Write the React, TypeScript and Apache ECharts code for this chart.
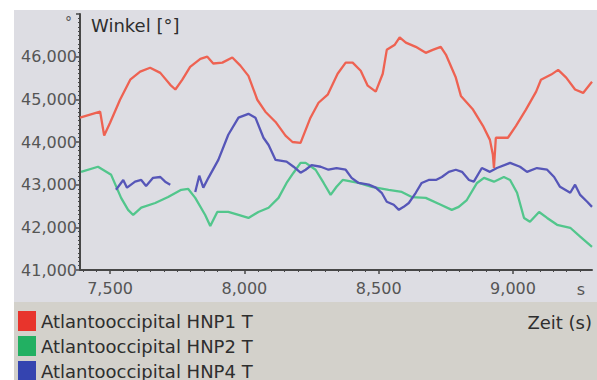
import React, { useEffect, useRef } from "react";
import * as echarts from "echarts";

const FONT = "DejaVu Sans";

const seriesNames = ["Atlantooccipital HNP1 T", "Atlantooccipital HNP2 T", "Atlantooccipital HNP4 T"];
const lineColors = ["#ee6252", "#52c68c", "#5656b8"];
const legendColors = ["#e8342c", "#22b062", "#3444b0"];

const xLabelValues = [7500, 8000, 8500, 9000];
const xMinorTicks = [7400, 7450, 7550, 7600, 7650, 7700, 7750, 7800, 7850, 7900, 7950, 8050, 8100, 8150, 8200, 8250, 8300, 8350, 8400, 8450, 8550, 8600, 8650, 8700, 8750, 8800, 8850, 8900, 8950, 9050, 9100, 9150, 9200, 9250];

const redT = [7388, 7463, 7478, 7500, 7537, 7575, 7612, 7649, 7687, 7724, 7743, 7769, 7798, 7836, 7862, 7884, 7918, 7955, 7985, 8015, 8048, 8078, 8116, 8153, 8179, 8209, 8246, 8276, 8310, 8347, 8377, 8403, 8433, 8459, 8489, 8515, 8530, 8560, 8578, 8601, 8638, 8675, 8701, 8731, 8750, 8787, 8806, 8851, 8888, 8914, 8925, 8929, 8936, 8981, 9011, 9048, 9086, 9104, 9142, 9168, 9198, 9231, 9261, 9294];
const redV = [44570, 44710, 44150, 44450, 44990, 45460, 45650, 45740, 45620, 45340, 45230, 45460, 45760, 45950, 46000, 45840, 45860, 45980, 45790, 45550, 44990, 44710, 44470, 44150, 44000, 43980, 44570, 44920, 45110, 45600, 45860, 45860, 45670, 45320, 45180, 45600, 46160, 46280, 46450, 46330, 46230, 46090, 46160, 46230, 46050, 45510, 45080, 44760, 44380, 44050, 43700, 43390, 44100, 44100, 44380, 44760, 45180, 45460, 45580, 45690, 45510, 45230, 45150, 45410];

const greenT = [7392, 7455, 7504, 7541, 7567, 7586, 7616, 7668, 7716, 7765, 7791, 7817, 7854, 7873, 7899, 7940, 7978, 8015, 8052, 8090, 8127, 8157, 8183, 8209, 8228, 8265, 8295, 8321, 8343, 8366, 8425, 8474, 8537, 8586, 8623, 8675, 8731, 8772, 8798, 8828, 8866, 8892, 8929, 8966, 8989, 9015, 9041, 9063, 9097, 9127, 9164, 9213, 9250, 9294];
const greenV = [43300, 43420, 43230, 42690, 42410, 42290, 42460, 42570, 42710, 42880, 42900, 42690, 42290, 42030, 42360, 42360, 42290, 42220, 42360, 42460, 42690, 43040, 43280, 43510, 43510, 43350, 43040, 42760, 42950, 43110, 43040, 42950, 42880, 42830, 42710, 42690, 42530, 42410, 42480, 42640, 43040, 43160, 43070, 43180, 43110, 42810, 42220, 42130, 42360, 42220, 42060, 41990, 41780, 41540];

const blueT = [7522, 7549, 7563, 7593, 7616, 7634, 7660, 7687, 7705, 7724, 7770, 7817, 7832, 7847, 7866, 7903, 7940, 7978, 8015, 8041, 8071, 8090, 8116, 8157, 8183, 8209, 8228, 8250, 8284, 8313, 8343, 8377, 8399, 8425, 8463, 8489, 8511, 8530, 8556, 8575, 8593, 8612, 8638, 8660, 8686, 8713, 8735, 8761, 8787, 8810, 8836, 8854, 8884, 8914, 8940, 8989, 9026, 9052, 9089, 9127, 9153, 9175, 9213, 9231, 9250, 9276, 9294];
const blueV = [42880, 43110, 42930, 43070, 43110, 42970, 43160, 43180, 43070, 43000, null, 42830, 43210, 42930, 43160, 43580, 44170, 44570, 44660, 44570, 44100, 43930, 43580, 43540, 43420, 43280, 43350, 43460, 43420, 43350, 43390, 43350, 43160, 43040, 43000, 42930, 42810, 42600, 42530, 42410, 42480, 42570, 42810, 43040, 43110, 43110, 43180, 43300, 43350, 43300, 43110, 43070, 43390, 43300, 43390, 43510, 43420, 43300, 43390, 43350, 43180, 42950, 42810, 43000, 42760, 42600, 42480];

const pairs = (t: number[], v: (number | null)[]) => t.map((x, i) => [x, v[i] === null ? "-" : v[i]]);
const fmt = (v: number) => v.toLocaleString("en-US");

export default function App() {
  const ref = useRef<HTMLDivElement>(null);
  useEffect(() => {
    const chart = echarts.init(ref.current!, null, { renderer: "svg" });
    const axisColor = "#474747";
    const allT = [redT, greenT, blueT];
    const allV = [redV, greenV, blueV];
    chart.setOption({
      animation: false,
      backgroundColor: "#ffffff",
      textStyle: { fontFamily: FONT },
      graphic: {
        elements: [
          { type: "rect", z: -10, shape: { x: 14, y: 10, width: 583, height: 292 }, style: { fill: "#dddde3" }, silent: true },
          { type: "rect", z: -10, shape: { x: 14, y: 302, width: 583, height: 78 }, style: { fill: "#d3d1cb" }, silent: true },
          { type: "text", x: 91, y: 25, style: { text: "Winkel [°]", font: `18px '${FONT}'`, fill: "#2e2e2e", textVerticalAlign: "middle" } },
          { type: "text", x: 65, y: 22, style: { text: "°", font: `14px '${FONT}'`, fill: "#555", textVerticalAlign: "middle" } },
          { type: "text", x: 592, y: 322, style: { text: "Zeit (s)", font: `18px '${FONT}'`, fill: "#2e2e2e", textAlign: "right", textVerticalAlign: "middle" } },
          { type: "text", x: 581, y: 289, style: { text: "s", font: `16px '${FONT}'`, fill: "#555", textAlign: "center", textVerticalAlign: "middle" } },
        ],
      },
      grid: { left: 80, right: 5, top: 14, bottom: 110, containLabel: false },
      legend: {
        orient: "vertical",
        left: 18,
        top: 311,
        height: 120,
        width: 300,
        padding: 0,
        itemWidth: 18,
        itemHeight: 20,
        itemGap: 5,
        icon: "rect",
        textStyle: { fontSize: 18, color: "#2e2e2e", fontFamily: FONT, lineHeight: 20 },
        data: seriesNames.map((n, i) => ({ name: n, itemStyle: { color: legendColors[i] } })),
      },
      xAxis: [
        {
          type: "value",
          min: 7388,
          max: 9294,
          axisLine: { show: true, lineStyle: { color: axisColor, width: 2 } },
          axisTick: { show: true, customValues: xLabelValues, length: 4, lineStyle: { color: axisColor, width: 1.5 } },
          axisLabel: { customValues: xLabelValues, formatter: fmt, fontSize: 16, color: "#555", margin: 10, fontFamily: FONT },
          splitLine: { show: false },
        },
        {
          type: "value",
          min: 7388,
          max: 9294,
          position: "bottom",
          axisLine: { show: false },
          axisTick: { show: true, customValues: xMinorTicks, length: 2, lineStyle: { color: axisColor, width: 1 } },
          axisLabel: { show: false },
          splitLine: { show: false },
        },
      ],
      yAxis: {
        type: "value",
        min: 41000,
        max: 47000,
        interval: 1000,
        axisLine: { show: true, lineStyle: { color: axisColor, width: 2 } },
        axisTick: { show: true, length: 4, lineStyle: { color: axisColor, width: 1.5 } },
        minorTick: { show: true, splitNumber: 10, length: 2, lineStyle: { color: axisColor, width: 1 } },
        axisLabel: {
          formatter: (v: number) => (v === 47000 ? "" : fmt(v)),
          fontSize: 16,
          color: "#555",
          margin: 3,
          fontFamily: FONT,
        },
        splitLine: { show: false },
        minorSplitLine: { show: false },
      },
      series: seriesNames.map((n, i) => ({
        name: n,
        type: "line",
        xAxisIndex: 0,
        showSymbol: false,
        symbol: "none",
        connectNulls: false,
        color: lineColors[i],
        lineStyle: { width: 2.3, color: lineColors[i] },
        data: pairs(allT[i], allV[i]),
      })),
    });
    return () => chart.dispose();
  }, []);
  return <div ref={ref} style={{ position: "fixed", left: 0, top: 0, width: 597, height: 380 }} />;
}
